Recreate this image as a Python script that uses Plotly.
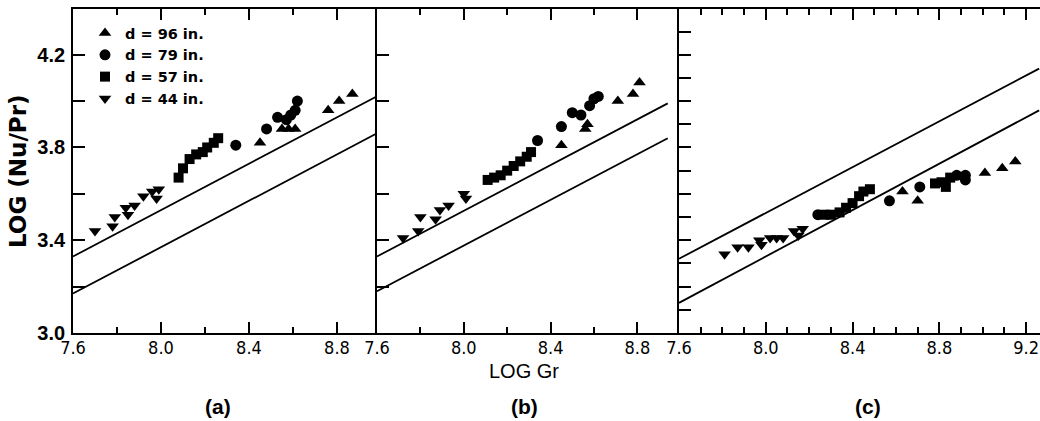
import plotly.graph_objects as go

# ---------------- data ----------------
labels = ["d = 96 in.", "d = 79 in.", "d = 57 in.", "d = 44 in."]
symbols = ["triangle-up", "circle", "square", "triangle-down"]

# panel (a)
a_x96 = [8.45, 8.55, 8.58, 8.61, 8.76, 8.81, 8.87]
a_y96 = [3.82, 3.88, 3.88, 3.88, 3.96, 4.00, 4.03]
a_x79 = [8.34, 8.48, 8.53, 8.57, 8.59, 8.61, 8.62]
a_y79 = [3.81, 3.88, 3.93, 3.92, 3.94, 3.96, 4.00]
a_x57 = [8.08, 8.10, 8.13, 8.16, 8.19, 8.21, 8.24, 8.26]
a_y57 = [3.67, 3.71, 3.75, 3.77, 3.78, 3.80, 3.82, 3.84]
a_x44 = [7.70, 7.78, 7.79, 7.84, 7.85, 7.88, 7.92, 7.96, 7.98, 7.99]
a_y44 = [3.44, 3.46, 3.50, 3.54, 3.51, 3.55, 3.59, 3.61, 3.58, 3.62]
a_line_x = [7.6, 8.98]
a_upper_y = [3.33, 4.02]
a_lower_y = [3.17, 3.86]

# panel (b)
b_x96 = [8.45, 8.56, 8.57, 8.71, 8.78, 8.81]
b_y96 = [3.81, 3.88, 3.90, 4.00, 4.03, 4.08]
b_x79 = [8.34, 8.45, 8.50, 8.54, 8.58, 8.60, 8.62]
b_y79 = [3.83, 3.89, 3.95, 3.94, 3.98, 4.01, 4.02]
b_x57 = [8.11, 8.14, 8.17, 8.20, 8.23, 8.26, 8.29, 8.31]
b_y57 = [3.66, 3.67, 3.68, 3.70, 3.72, 3.74, 3.76, 3.78]
b_x44 = [7.72, 7.79, 7.80, 7.87, 7.89, 7.93, 8.00, 8.01]
b_y44 = [3.41, 3.44, 3.50, 3.49, 3.53, 3.55, 3.60, 3.58]
b_line_x = [7.6, 8.94]
b_upper_y = [3.33, 3.99]
b_lower_y = [3.18, 3.84]

# panel (c)
c_x96 = [8.63, 8.70, 9.01, 9.09, 9.15]
c_y96 = [3.61, 3.57, 3.69, 3.71, 3.74]
c_x79 = [8.24, 8.57, 8.71, 8.88, 8.92, 8.92]
c_y79 = [3.51, 3.57, 3.63, 3.68, 3.68, 3.66]
c_x57 = [8.27, 8.30, 8.34, 8.37, 8.40, 8.43, 8.45, 8.48, 8.78, 8.81, 8.83, 8.85]
c_y57 = [3.51, 3.51, 3.52, 3.54, 3.56, 3.59, 3.61, 3.62, 3.645, 3.65, 3.63, 3.67]
c_x44 = [7.81, 7.87, 7.92, 7.97, 7.98, 8.02, 8.05, 8.08, 8.13, 8.15, 8.17]
c_y44 = [3.34, 3.37, 3.37, 3.40, 3.38, 3.41, 3.41, 3.41, 3.44, 3.42, 3.45]
c_line_x = [7.6, 9.26]
c_upper_y = [3.32, 4.14]
c_lower_y = [3.13, 3.96]

panel_names = ["(a)", "(b)", "(c)"]
x_title = "LOG Gr"
y_title = "LOG (Nu/Pr)"

# ---------------- figure ----------------
W, H = 1040, 421
L, R, T, B = 73, 0, 9, 88
PW, PH = W - L - R, H - T - B

def px_x(p):
    return (p - L) / PW

def px_y(p):
    return (H - B - p) / PH

panels = [
    ("x", "y", [(a_x96, a_y96), (a_x79, a_y79), (a_x57, a_y57), (a_x44, a_y44)], a_line_x, a_upper_y, a_lower_y),
    ("x2", "y2", [(b_x96, b_y96), (b_x79, b_y79), (b_x57, b_y57), (b_x44, b_y44)], b_line_x, b_upper_y, b_lower_y),
    ("x3", "y3", [(c_x96, c_y96), (c_x79, c_y79), (c_x57, c_y57), (c_x44, c_y44)], c_line_x, c_upper_y, c_lower_y),
]

fig = go.Figure()
for pi, (xa, ya, series, lx, uy, ly) in enumerate(panels):
    for ly_vals in (uy, ly):
        fig.add_trace(go.Scatter(x=lx, y=ly_vals, mode="lines", xaxis=xa, yaxis=ya,
                                 line=dict(color="black", width=1.8), showlegend=False,
                                 hoverinfo="skip"))
    for si, (sx, sy) in enumerate(series):
        fig.add_trace(go.Scatter(
            x=sx, y=sy, mode="markers", xaxis=xa, yaxis=ya,
            name=labels[si], showlegend=(pi == 0),
            marker=dict(symbol=symbols[si], color="black", size=11 if si != 2 else 10,
                        line=dict(width=0)),
        ))

tickfont_x = dict(family="Liberation Sans Narrow, DejaVu Sans Condensed, Liberation Sans",
                  size=18, color="black")
tickfont_y = dict(family="Liberation Sans", size=20, color="black", weight="bold")

d1 = px_x(377)
d2 = px_x(679)
x_specs = [
    (dict(domain=[0, d1], range=[7.6, 8.982]), 0.2),
    (dict(domain=[d1, d2], range=[7.6, 8.992]), 0.2),
    (dict(domain=[d2, 1.0], range=[7.6, 9.264]), 0.1),
]
y_minor = [0.2, 0.2, 0.1]

layout = dict(
    width=W, height=H,
    margin=dict(l=L, r=R, t=T, b=B),
    paper_bgcolor="white", plot_bgcolor="white",
    showlegend=True,
    legend=dict(x=px_x(85), y=px_y(17), xanchor="left", yanchor="top",
                bgcolor="rgba(0,0,0,0)", borderwidth=0,
                font=dict(family="DejaVu Sans", size=14.5, color="black", weight="bold"),
                itemsizing="trace", tracegroupgap=0),
)

for i, ((xd, mdt), ymdt) in enumerate(zip(x_specs, y_minor)):
    sfx = "" if i == 0 else str(i + 1)
    layout["xaxis" + sfx] = dict(
        **xd, anchor="y" + sfx, showgrid=False, zeroline=False,
        showline=True, linecolor="black", linewidth=1.8, mirror="allticks",
        ticks="inside", ticklen=11, tickwidth=1.5, tickcolor="black",
        tick0=7.6, dtick=0.4, tickformat=".1f", tickfont=tickfont_x,
        ticklabelstandoff=-3,
        minor=dict(dtick=mdt, tick0=7.6, ticks="inside", ticklen=6, tickwidth=1.5,
                   tickcolor="black", showgrid=False),
    )
    layout["yaxis" + sfx] = dict(
        domain=[0, 1], range=[3.0, 4.397], anchor="x" + sfx, showgrid=False, zeroline=False,
        showline=True, linecolor="black", linewidth=1.8, mirror=False,
        ticks="inside", ticklen=12, tickwidth=1.5, tickcolor="black",
        tick0=3.0, dtick=0.4, tickformat=".1f", tickfont=tickfont_y,
        ticklabelstandoff=2,
        showticklabels=(i == 0),
        minor=dict(dtick=ymdt, tick0=3.0, ticks="inside", ticklen=12, tickwidth=1.5,
                   tickcolor="black", showgrid=False),
    )

anns = []
anns.append(dict(text=y_title, x=px_x(18), y=px_y(171), xref="paper", yref="paper",
                 xanchor="center", yanchor="middle", textangle=-90, showarrow=False,
                 font=dict(family="DejaVu Sans", size=23, color="black", weight="bold")))
anns.append(dict(text=x_title, x=px_x(524), y=px_y(371), xref="paper", yref="paper",
                 xanchor="center", yanchor="middle", showarrow=False,
                 font=dict(family="Liberation Sans", size=20, color="black")))
for name, cx in zip(panel_names, [218, 524, 868]):
    anns.append(dict(text=name, x=px_x(cx), y=px_y(407), xref="paper", yref="paper",
                     xanchor="center", yanchor="middle", showarrow=False,
                     font=dict(family="Liberation Sans", size=21, color="black", weight="bold")))
layout["annotations"] = anns

fig.update_layout(**layout)
fig.write_html("out.html", config={"displayModeBar": False},
               post_script="document.body.style.margin='0';")
